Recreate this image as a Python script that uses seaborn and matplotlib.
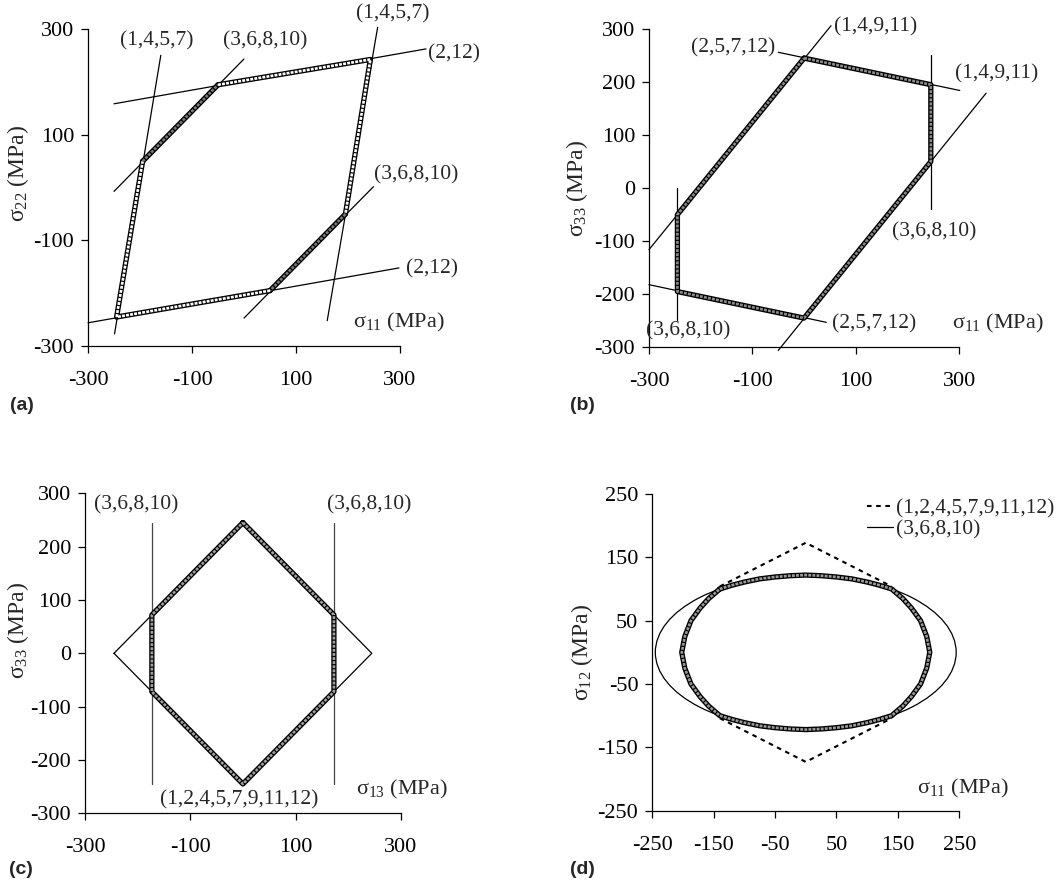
import matplotlib
matplotlib.use('Agg')
import matplotlib.pyplot as plt
import seaborn as sns
from matplotlib.lines import Line2D
from matplotlib.patches import Ellipse

# ---------------- data (MPa) ----------------
# (a) sigma11 - sigma22 plane: yield surface vertices
a_s11 = [-245, -195, -50, 243, 195, 50, -245]
a_s22 = [-245, 50, 195, 243, -50, -195, -245]
# constraint lines (pairs of end points)
a_lines_x = [[-250, 350], [-300, 298], [-160, -249], [257, 160], [-250, 0], [0, 249]]
a_lines_y = [[159, 263], [-256, -152], [251, -277], [304, -252], [-7, 244], [-247, 2]]
a_labels = ['(1,4,5,7)', '(3,6,8,10)', '(1,4,5,7)', '(2,12)', '(3,6,8,10)', '(2,12)']
a_label_x = [-168, 40, 286, 404, 332, 362]
a_label_y = [279, 279, 330, 254, 25, -154]

# (b) sigma11 - sigma33 plane
b_s11 = [0, 245, 245, 0, -245, -245, 0]
b_s33 = [245, 195, 50, -245, -195, -50, 245]
b_lines_x = [[-300, 52], [-50, 352], [-50, 301], [-300, 43], [245, 245], [-245, -245]]
b_lines_y = [[-116, 306], [-306, 179], [256, 184], [-182, -253], [251, -40], [1, -248]]
b_labels = ['(1,4,9,11)', '(2,5,7,12)', '(1,4,9,11)', '(3,6,8,10)', '(3,6,8,10)', '(2,5,7,12)']
b_label_x = [138, -137, 372, 252, -224, 135]
b_label_y = [303, 264, 216, -82, -270, -256]

# (c) sigma13 - sigma33 plane
c_diamond_x = [-245, 0, 245, 0, -245]
c_diamond_y = [0, 245, 0, -245, 0]
c_s13 = [0, 173, 173, 0, -173, -173, 0]
c_s33 = [245, 72, -72, -245, -72, 72, 245]
c_lines_x = [[-173, -173], [173, 173]]
c_lines_y = [[245, -245], [245, -245]]
c_labels = ['(3,6,8,10)', '(3,6,8,10)', '(1,2,4,5,7,9,11,12)']
c_label_x = [-202, 240, -7]
c_label_y = [278, 278, -274]

# (d) sigma11 - sigma12 plane
d_ell_a = 245   # (3,6,8,10) ellipse semi axes
d_ell_b = 122
d_s11 = [-140, -120, -100, -75, -50, -25, 0, 25, 50, 75, 100, 120, 140,
         158, 172, 187, 197, 202, 197, 187, 172, 158,
         140, 120, 100, 75, 50, 25, 0, -25, -50, -75, -100, -120, -140,
         -158, -172, -187, -197, -202, -197, -187, -172, -158, -140]
d_s12 = [100, 106, 111, 116, 119, 121, 122, 121, 119, 116, 111, 106, 100,
         85, 70, 50, 25, 0, -25, -50, -70, -85,
         -100, -106, -111, -116, -119, -121, -122, -121, -119, -116, -111, -106, -100,
         -85, -70, -50, -25, 0, 25, 50, 70, 85, 100]
d_dash_x = [-140, 0, 140]
d_dash_top = [104, 173, 104]
d_dash_bot = [-104, -173, -104]
d_legend = ['(1,2,4,5,7,9,11,12)', '(3,6,8,10)']

# ---------------- style ----------------
sns.set_style('ticks')
plt.rcParams['font.family'] = ['Liberation Serif', 'DejaVu Serif']
plt.rcParams['mathtext.fontset'] = 'custom'
plt.rcParams['mathtext.rm'] = 'Liberation Serif'
plt.rcParams['mathtext.it'] = 'Liberation Serif:italic'
plt.rcParams['axes.unicode_minus'] = False
plt.rcParams['axes.linewidth'] = 0.9
plt.rcParams['axes.edgecolor'] = 'black'
plt.rcParams['xtick.color'] = 'black'
plt.rcParams['ytick.color'] = 'black'

FS = 15.5
TICK_FS = 16


def tube(ax, xs, ys, core='white'):
    # chain of small open circles -> dark outline with light dashed core
    ax.plot(xs, ys, color='black', lw=3.8, solid_joinstyle='round',
            solid_capstyle='round', zorder=3)
    ax.plot(xs, ys, color=core, lw=1.9, dashes=(1.1, 0.45), zorder=4)


def thin(ax, xs, ys, color='black'):
    sns.lineplot(x=xs, y=ys, sort=False, estimator=None, color=color,
                 lw=0.9, ax=ax, clip_on=False, zorder=2)


def setup(ax, lim, xt, yt, ylab_pos, ylab):
    ax.set_xlim(lim)
    ax.set_ylim(lim)
    ax.set_xticks(xt)
    ax.set_yticks(yt)
    sns.despine(ax=ax)
    ax.tick_params(direction='out', length=5, width=0.9, labelsize=TICK_FS)
    ax.tick_params(axis='x', pad=13)
    ax.tick_params(axis='y', pad=5)
    ax.set_xlabel('')
    ax.set_ylabel('')
    ax.text(ylab_pos[0], ylab_pos[1], ylab, transform=ax.transAxes, rotation=90,
            ha='center', va='center', fontsize=FS + 1.5)


fig = plt.figure(figsize=(10.63, 8.85), dpi=100)
ax_a = fig.add_axes([0.0828, 0.6090, 0.2935, 0.3578])
ax_b = fig.add_axes([0.6105, 0.6076, 0.2919, 0.3597])
ax_c = fig.add_axes([0.0800, 0.0810, 0.2970, 0.3616])
ax_d = fig.add_axes([0.6136, 0.0840, 0.2888, 0.3578])

# ---- (a)
for xs, ys in zip(a_lines_x, a_lines_y):
    thin(ax_a, xs, ys)
tube(ax_a, a_s11[0:2], a_s22[0:2])
tube(ax_a, a_s11[1:3], a_s22[1:3], core='#7a7a7a')
tube(ax_a, a_s11[2:5], a_s22[2:5])
tube(ax_a, a_s11[4:6], a_s22[4:6], core='#7a7a7a')
tube(ax_a, a_s11[5:7], a_s22[5:7])
for t, x, y in zip(a_labels, a_label_x, a_label_y):
    ax_a.text(x, y, t, ha='center', va='center', fontsize=FS, clip_on=False)
ax_a.text(297, -256, r'$\mathregular{\sigma_{11}}$ (MPa)', ha='center', va='center', fontsize=FS + 0.5)
setup(ax_a, (-300, 300), [-300, -100, 100, 300], [-300, -100, 100, 300],
      (-0.224, 0.546), r'$\mathregular{\sigma_{22}}$ (MPa)')

# ---- (b)
for xs, ys in zip(b_lines_x, b_lines_y):
    thin(ax_b, xs, ys)
tube(ax_b, b_s11, b_s33, core='#8a8a8a')
for t, x, y in zip(b_labels, b_label_x, b_label_y):
    ax_b.text(x, y, t, ha='center', va='center', fontsize=FS, clip_on=False)
ax_b.text(375, -256, r'$\mathregular{\sigma_{11}}$ (MPa)', ha='center', va='center', fontsize=FS + 0.5)
setup(ax_b, (-300, 300), [-300, -100, 100, 300], list(range(-300, 301, 100)),
      (-0.232, 0.50), r'$\mathregular{\sigma_{33}}$ (MPa)')

# ---- (c)
thin(ax_c, c_diamond_x, c_diamond_y)
for xs, ys in zip(c_lines_x, c_lines_y):
    thin(ax_c, xs, ys, color='#444444')
tube(ax_c, c_s13, c_s33, core='#a0a0a0')
for t, x, y in zip(c_labels, c_label_x, c_label_y):
    ax_c.text(x, y, t, ha='center', va='center', fontsize=FS, clip_on=False)
ax_c.text(302, -256, r'$\mathregular{\sigma_{13}}$ (MPa)', ha='center', va='center', fontsize=FS + 0.5)
setup(ax_c, (-300, 300), [-300, -100, 100, 300], list(range(-300, 301, 100)),
      (-0.212, 0.573), r'$\mathregular{\sigma_{33}}$ (MPa)')

# ---- (d)
ax_d.add_patch(Ellipse((0, 0), 2 * d_ell_a, 2 * d_ell_b, fill=False,
                       edgecolor='black', lw=0.9, zorder=2))
ax_d.plot(d_dash_x, d_dash_top, color='black', lw=1.5, dashes=(2.2, 2.2), zorder=2)
ax_d.plot(d_dash_x, d_dash_bot, color='black', lw=1.5, dashes=(2.2, 2.2), zorder=2)
tube(ax_d, d_s11, d_s12, core='#999999')
ax_d.text(256, -215, r'$\mathregular{\sigma_{11}}$ (MPa)', ha='center', va='center', fontsize=FS + 0.5)
handles = [Line2D([], [], color='black', lw=1.5, dashes=(2.2, 2.2)),
           Line2D([], [], color='black', lw=0.9)]
ax_d.legend(handles, d_legend, loc='upper left', bbox_to_anchor=(0.70, 0.985),
            frameon=False, fontsize=FS, handlelength=1.2, handletextpad=0.15,
            labelspacing=0.05, borderpad=0, borderaxespad=0)
setup(ax_d, (-250, 250), list(range(-250, 251, 100)), list(range(-250, 251, 100)),
      (-0.23, 0.50), r'$\mathregular{\sigma_{12}}$ (MPa)')

# panel letters
for lab, x, y in [('(a)', 10, 405), ('(b)', 570, 405), ('(c)', 9, 870), ('(d)', 570, 870)]:
    fig.text(x / 1063, 1 - y / 885, lab, family='Liberation Sans', weight='bold',
             fontsize=14, ha='left', va='center')

fig.savefig('out.png', dpi=100)
